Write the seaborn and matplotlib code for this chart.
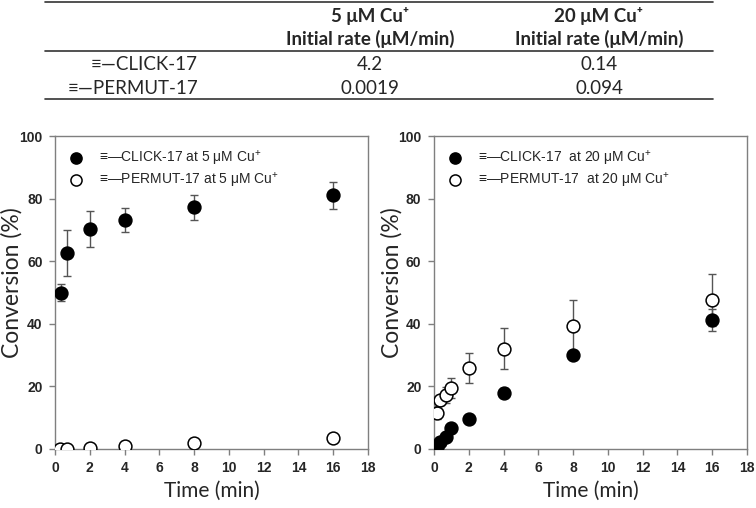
import matplotlib
matplotlib.use("Agg")
import matplotlib.pyplot as plt
import seaborn as sns
import pandas as pd
from matplotlib.lines import Line2D

# ---- data ----
t_left_click = [0.33, 0.67, 2, 4, 8, 16]
y_left_click = [49.9, 62.7, 70.3, 73.2, 77.3, 81.0]
e_left_click = [2.7, 7.3, 5.7, 3.8, 4.0, 4.4]

t_left_perm = [0.29, 0.67, 2, 4, 8, 16]
y_left_perm = [0.0, 0.0, 0.4, 1.1, 1.8, 3.4]
e_left_perm = [0, 0, 0, 0, 0, 0]

t_right = [0.17, 0.33, 0.67, 1.0, 2, 4, 8, 16]
y_right_click = [0.7, 2.3, 3.9, 6.6, 9.6, 18.0, 30.0, 41.2]
e_right_click = [0.3, 0.5, 0.6, 0.8, 0.8, 1.5, 0.8, 3.5]
y_right_perm = [11.6, 15.5, 17.3, 19.5, 25.9, 32.0, 39.4, 47.6]
e_right_perm = [2.0, 1.5, 2.5, 3.2, 4.9, 6.5, 8.2, 8.3]

table_rows = ["\u2261\u2014CLICK-17", "\u2261\u2014PERMUT-17"]
table_col_heads = ["5 \u03bcM Cu\u207a\nInitial rate (\u03bcM/min)",
                   "20 \u03bcM Cu\u207a\nInitial rate (\u03bcM/min)"]
rate_5uM = ["4.2", "0.0019"]
rate_20uM = ["0.14", "0.094"]

legend_left = ["\u2261\u2014CLICK-17 at 5 \u03bcM Cu$^{+}$",
               "\u2261\u2014PERMUT-17 at 5 \u03bcM Cu$^{+}$"]
legend_right = ["\u2261\u2014CLICK-17  at 20 \u03bcM Cu$^{+}$",
                "\u2261\u2014PERMUT-17  at 20 \u03bcM Cu$^{+}$"]

sns.set_theme(style="ticks")
plt.rcParams['font.family'] = ['Liberation Sans', 'DejaVu Sans']
plt.rcParams['mathtext.fontset'] = 'custom'
plt.rcParams['mathtext.rm'] = 'Liberation Sans'

W, H = 756, 508
fig = plt.figure(figsize=(W / 100, H / 100), dpi=100)

def fx(px):
    return px / W

def fy(py):
    return 1 - py / H

# ---- table ----
for yline in (1.5, 50.5, 99):
    fig.add_artist(Line2D([fx(45), fx(713)], [fy(yline), fy(yline)],
                          color="#333333", lw=1.2))
tfont = ['Lato', 'DejaVu Sans']
for cx, head in zip((370, 599), table_col_heads):
    fig.text(fx(cx), fy(27.5), head, ha="center", va="center",
             fontsize=13.5, fontweight="bold", family=tfont, linespacing=1.3)
for ry, lab, v1, v2 in zip((64, 88), table_rows, rate_5uM, rate_20uM):
    fig.text(fx(198), fy(ry), lab, ha="right", va="center", fontsize=13.5,
             family=tfont)
    fig.text(fx(370), fy(ry), v1, ha="center", va="center", fontsize=13.5,
             family=tfont)
    fig.text(fx(599), fy(ry), v2, ha="center", va="center", fontsize=13.5,
             family=tfont)

# ---- plots ----
axL = fig.add_axes([fx(55), fy(449), fx(313), 313 / H])
axR = fig.add_axes([fx(434), fy(449), fx(313), 313 / H])

def panel(ax, series, labels, ylab_x):
    handles = []
    for (t, y, e, fill), lab in zip(series, labels):
        ax.errorbar(t, y, yerr=e, fmt="none", ecolor="#555555",
                    elinewidth=1, capsize=3, capthick=1, zorder=2)
        df = pd.DataFrame({"t": t, "y": y})
        sns.scatterplot(data=df, x="t", y="y", ax=ax, s=85,
                        color=fill, edgecolor="black", linewidth=1.1,
                        zorder=3, legend=False)
        handles.append(Line2D([], [], ls="none", marker="o", markersize=8,
                              markerfacecolor=fill, markeredgecolor="black",
                              markeredgewidth=1.1, label=lab))
    ax.set_xlim(0, 18)
    ax.set_ylim(0, 100)
    ax.set_xticks(range(0, 19, 2))
    ax.set_yticks(range(0, 101, 20))
    for s in ax.spines.values():
        s.set_color("#7f7f7f")
        s.set_linewidth(1.0)
    ax.tick_params(direction="out", length=4, width=1, color="#7f7f7f",
                   labelsize=10, pad=5)
    for lbl in ax.get_xticklabels() + ax.get_yticklabels():
        lbl.set_fontweight("bold")
    ax.set_xlabel("Time (min)", fontsize=15, family=tfont, labelpad=4)
    ax.set_ylabel("Conversion (%)", fontsize=16.5, family=tfont)
    ax.yaxis.set_label_coords(ylab_x, 0.53)
    return handles

hL = panel(axL, [(t_left_click, y_left_click, e_left_click, "black"),
                 (t_left_perm, y_left_perm, e_left_perm, "white")],
           legend_left, -0.105)
hR = panel(axR, [(t_right, y_right_click, e_right_click, "black"),
                 (t_right, y_right_perm, e_right_perm, "white")],
           legend_right, -0.099)

axL.legend(handles=hL, loc="upper left", frameon=False, fontsize=10,
           handletextpad=1.1, borderaxespad=0.0, labelspacing=0.2,
           handlelength=1.2, bbox_to_anchor=(0.022, 0.975))
axR.legend(handles=hR, loc="upper left", frameon=False, fontsize=10,
           handletextpad=1.1, borderaxespad=0.0, labelspacing=0.2,
           handlelength=1.2, bbox_to_anchor=(0.022, 0.975))

fig.savefig("out.png", dpi=100)
